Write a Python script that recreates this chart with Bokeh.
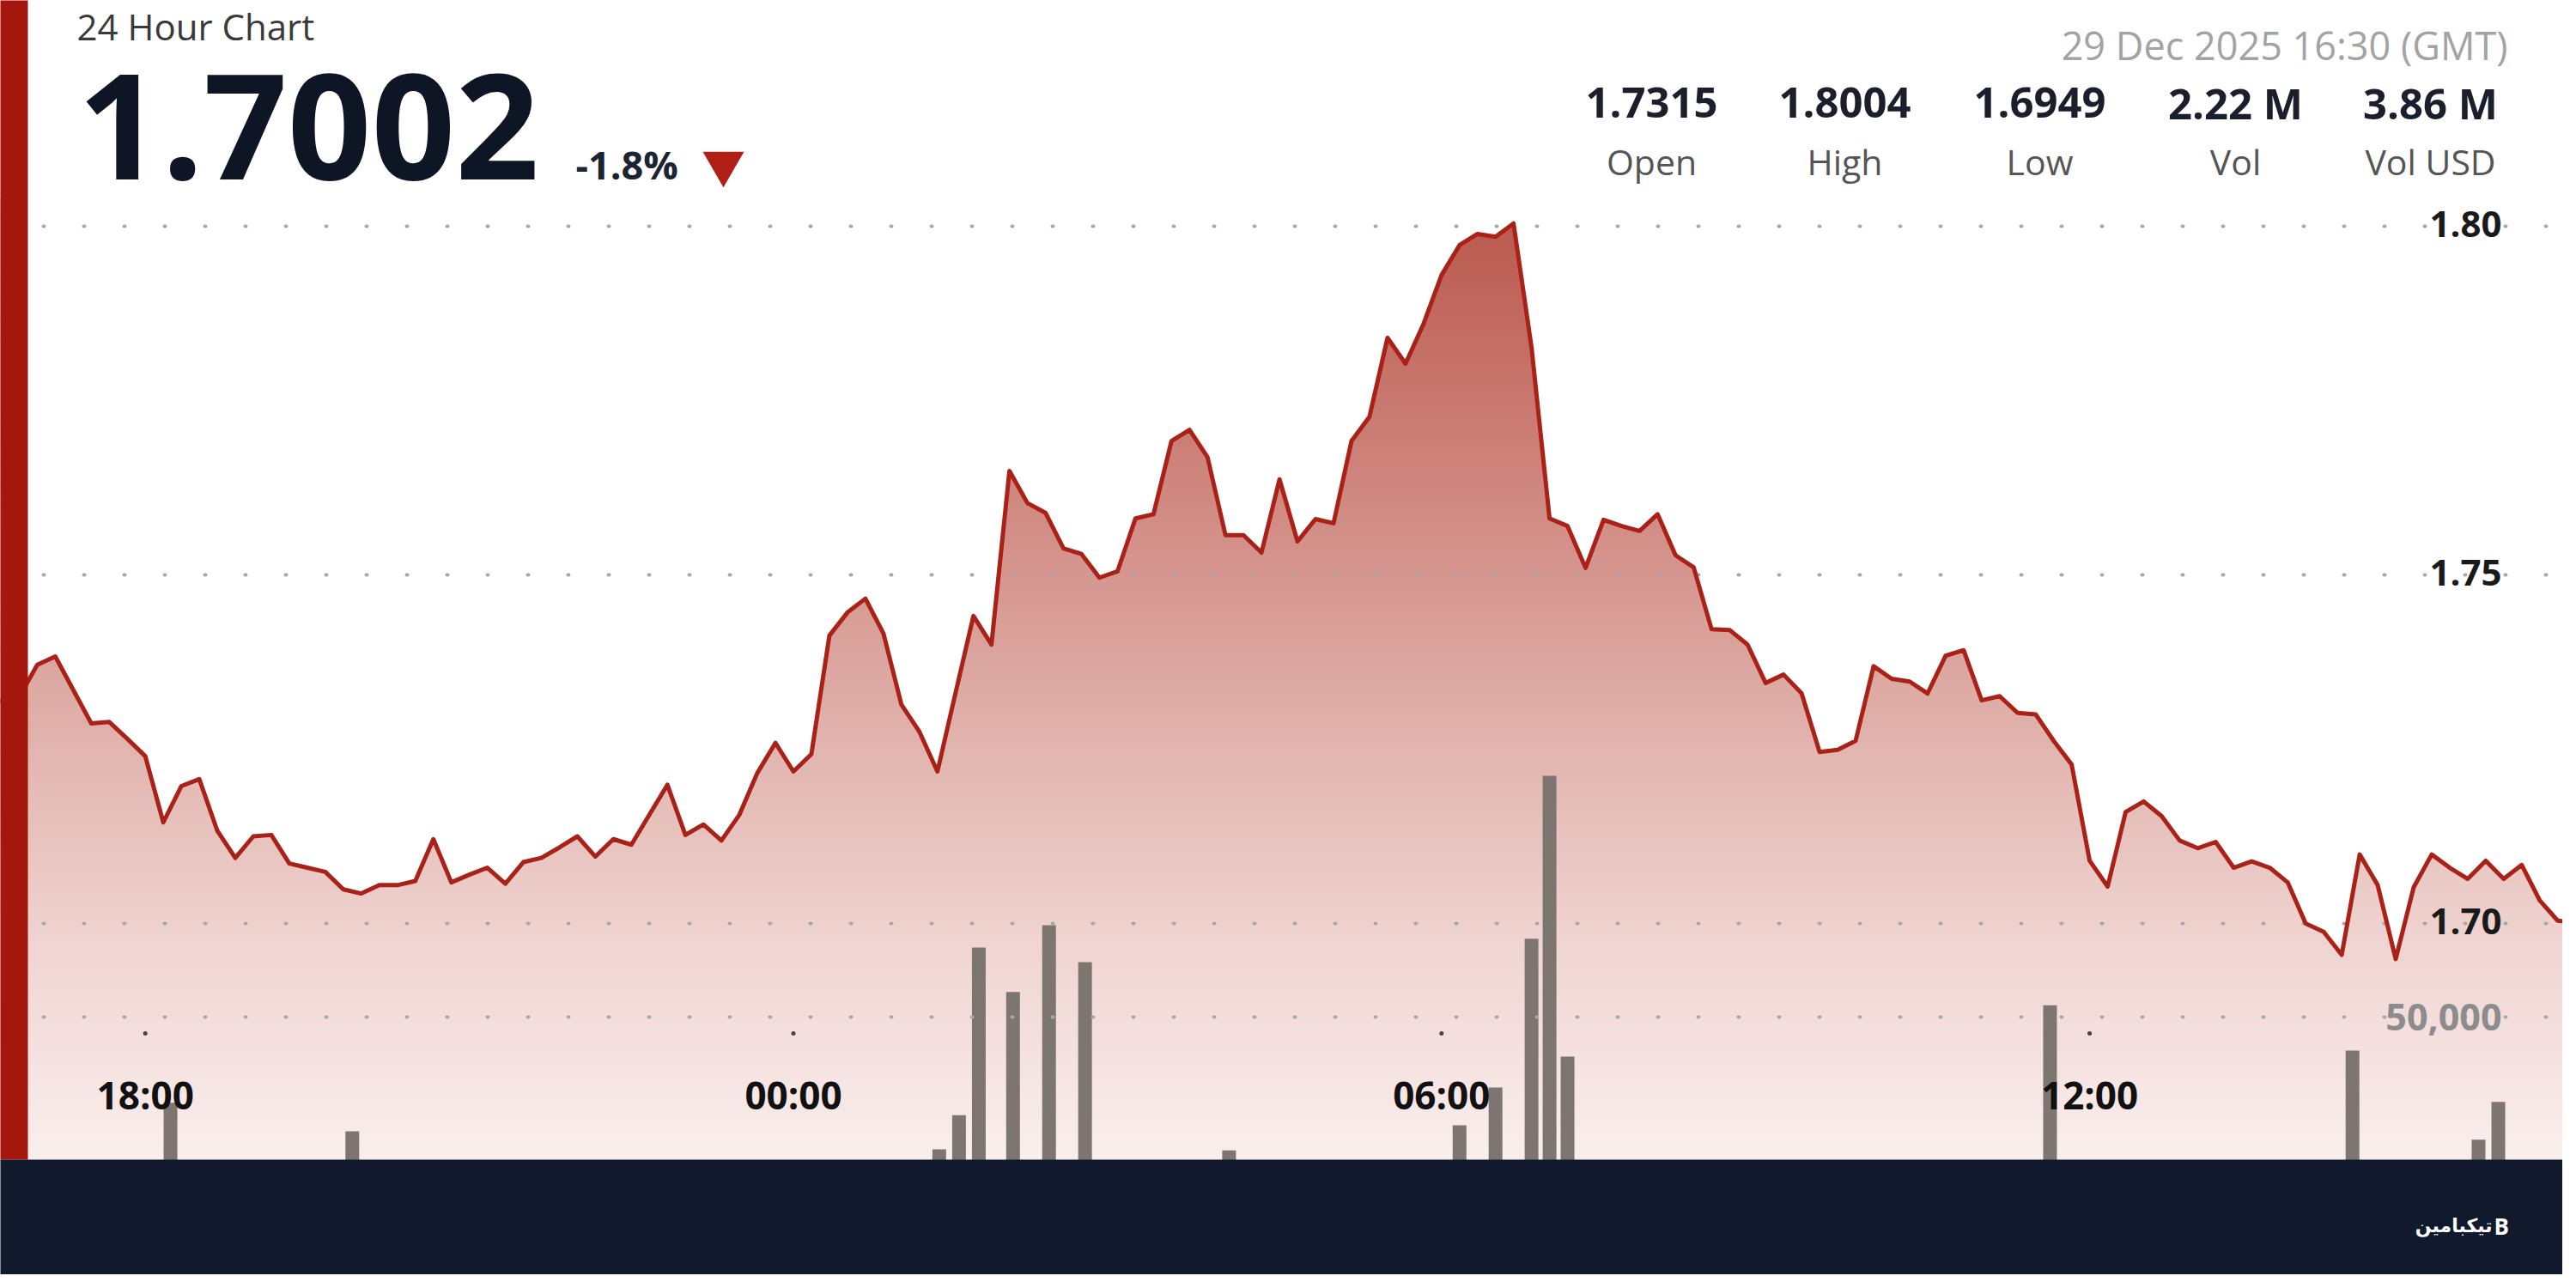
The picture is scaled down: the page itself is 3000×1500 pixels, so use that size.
import numpy as np
import pandas as pd
from bokeh.plotting import figure
from bokeh.models import Range1d
from bokeh.core.properties import value
from bokeh.embed import file_html
from bokeh.resources import INLINE

# ---------------- data ----------------
title_text = "24 Hour Chart"
last_price_text = "1.7002"
change_text = "-1.8%"
timestamp_text = "29 Dec 2025 16:30 (GMT)"
stat_values = ["1.7315", "1.8004", "1.6949", "2.22 M", "3.86 M"]
stat_labels = ["Open", "High", "Low", "Vol", "Vol USD"]
brand_text = "تیکبامین"

price_start = "2025-12-28 16:30"
price_step = "10min"
prices = [
    1.7315, 1.7320, 1.7325, 1.7371, 1.7383, 1.7335, 1.7287, 1.7289, 1.7265, 1.7240,
    1.7145, 1.7197, 1.7207, 1.7133, 1.7094, 1.7125, 1.7127, 1.7086, 1.7080, 1.7074,
    1.7049, 1.7043, 1.7055, 1.7055, 1.7061, 1.7121, 1.7059, 1.7070, 1.7080, 1.7057,
    1.7088, 1.7094, 1.7109, 1.7125, 1.7096, 1.7121, 1.7113, 1.7156, 1.7199, 1.7127,
    1.7142, 1.7119, 1.7156, 1.7216, 1.7259, 1.7218, 1.7243, 1.7413, 1.7446, 1.7466,
    1.7416, 1.7314, 1.7275, 1.7218, 1.7330, 1.7441, 1.7400, 1.7649, 1.7603, 1.7589,
    1.7538, 1.7530, 1.7496, 1.7505, 1.7581, 1.7587, 1.7692, 1.7708, 1.7669, 1.7557,
    1.7557, 1.7532, 1.7637, 1.7548, 1.7580, 1.7574, 1.7692, 1.7727, 1.7840, 1.7803,
    1.7860, 1.7930, 1.7973, 1.7989, 1.7985, 1.8004, 1.7826, 1.7581, 1.7570, 1.7510,
    1.7579, 1.7570, 1.7563, 1.7587, 1.7528, 1.7511, 1.7422, 1.7421, 1.7400, 1.7345,
    1.7357, 1.7330, 1.7246, 1.7249, 1.7262, 1.7369, 1.7351, 1.7347, 1.7330, 1.7384,
    1.7392, 1.7320, 1.7326, 1.7302, 1.7300, 1.7262, 1.7228, 1.7090, 1.7053, 1.7160,
    1.7175, 1.7154, 1.7119, 1.7108, 1.7117, 1.7080, 1.7089, 1.7080, 1.7059, 1.7000,
    1.6988, 1.6955, 1.7099, 1.7055, 1.6949, 1.7052, 1.7099, 1.7080, 1.7064, 1.7090,
    1.7064, 1.7084, 1.7033, 1.7004, 1.7002,
]

volume_times = [
    "2025-12-28 18:14", "2025-12-28 19:55", "2025-12-29 01:21", "2025-12-29 01:32",
    "2025-12-29 01:43", "2025-12-29 02:02", "2025-12-29 02:22", "2025-12-29 02:42",
    "2025-12-29 04:02", "2025-12-29 06:10", "2025-12-29 06:30", "2025-12-29 06:50",
    "2025-12-29 07:00", "2025-12-29 07:10", "2025-12-29 11:38", "2025-12-29 14:26",
    "2025-12-29 15:36", "2025-12-29 15:47",
]
volumes = [
    30500, 24000, 19900, 27700, 65800, 55700, 70900, 62500,
    19700, 25400, 34000, 67800, 104900, 41000, 52700, 42400,
    22100, 30700,
]

price_ticks = [1.80, 1.75, 1.70]
volume_ticks = [50000]
time_ticks = ["2025-12-28 18:00", "2025-12-29 00:00", "2025-12-29 06:00", "2025-12-29 12:00"]
time_tick_labels = ["18:00", "00:00", "06:00", "12:00"]

# ---------------- helpers (reference pixel -> data) ----------------
BASE = pd.Timestamp(price_start)
PX_PER_HOUR = 125.8
X_AT_BASE = -20.0
W, H = 2984, 1484


def to_ms(ts):
    return pd.Timestamp(ts).value / 1e6


def X(px):
    return to_ms(BASE + pd.Timedelta(hours=(px - X_AT_BASE) / PX_PER_HOUR))


PRICE_PER_PX = 1.0 / 8120.0


def P(py):
    return 1.75 - (py - 669.0) * PRICE_PER_PX


VOL_BASE_PX = 1440.0
VOL_PX_PER_UNIT = 256.0 / 50000.0


def V(py):
    return (VOL_BASE_PX - py) / VOL_PX_PER_UNIT


times_ms = [to_ms(t) for t in pd.date_range(price_start, periods=len(prices), freq=price_step)]
vol_ms = [to_ms(t) for t in volume_times]
tick_ms = [to_ms(t) for t in time_ticks]

FONT = value("Open Sans")

p = figure(
    width=W, height=H,
    x_range=Range1d(X(0), X(W)),
    y_range=Range1d(P(H), P(0)),
    x_axis_location=None, y_axis_location=None,
    output_backend="svg", toolbar_location=None,
    min_border=0,
)
p.extra_y_ranges = {"vol": Range1d(V(H), V(0))}
p.grid.visible = False
p.outline_line_color = None
p.background_fill_color = "white"
p.border_fill_color = "white"

LEFT = X(0) - 1e7
RIGHT = X(3000) + 1e7

# ---- gradient area under the price line ----
stop_px = [240, 450, 670, 900, 1100, 1350]
stop_rgb = [(186, 88, 78), (200, 118, 109), (214, 151, 144),
            (228, 185, 180), (240, 213, 210), (250, 239, 238)]
band_top = np.arange(230, 1350, 6)
band_center = band_top + 3
chan = [np.interp(band_center, stop_px, [c[k] for c in stop_rgb]) for k in range(3)]
band_colors = ["#%02x%02x%02x" % (int(r), int(g), int(b)) for r, g, b in zip(*chan)]
p.quad(left=LEFT, right=RIGHT,
       top=[P(t) for t in band_top], bottom=[P(t + 7) for t in band_top],
       fill_color=band_colors, line_color=None)
# white mask above the line
p.varea(x=times_ms, y1=prices, y2=P(-50), fill_color="white")

# ---- volume bars ----
bar_w = 16 / PX_PER_HOUR * 3600 * 1000
p.vbar(x=vol_ms, top=volumes, bottom=0, width=bar_w, y_range_name="vol",
       fill_color="#7d7670", line_color=None)

# ---- dotted grid lines ----
p.segment(x0=X(50), x1=X(2975), y0=price_ticks, y1=price_ticks,
          line_dash="1 46", line_cap="round", line_width=4, line_color="#a8a8a8")
p.segment(x0=X(50), x1=X(2975), y0=volume_ticks, y1=volume_ticks, y_range_name="vol",
          line_dash="1 46", line_cap="round", line_width=4, line_color="#a8a8a8")

# ---- price line ----
p.line(times_ms, prices, line_width=5, line_color="#aa2118", line_join="round")

# ---- axis labels ----
nudge = 3 * PRICE_PER_PX
p.text(x=[X(2913)] * len(price_ticks), y=[v + nudge for v in price_ticks],
       text=["%.2f" % v for v in price_ticks],
       text_font=FONT, text_font_style="bold", text_font_size="42px",
       text_color="#1a1a1a", text_align="right", text_baseline="middle")
p.text(x=[X(2913)] * len(volume_ticks), y=volume_ticks, y_range_name="vol",
       text=["{:,}".format(v) for v in volume_ticks],
       text_font=FONT, text_font_style="bold", text_font_size="43px",
       text_color="#8c8c8c", text_align="right", text_baseline="middle")

# time ticks
p.scatter(x=tick_ms, y=[P(1203)] * len(tick_ms), size=5, color="#444444", line_color=None)
p.text(x=tick_ms, y=[P(1274)] * len(tick_ms), text=time_tick_labels,
       text_font=FONT, text_font_style="bold", text_font_size="44px",
       text_color="#111111", text_align="center", text_baseline="middle")

# ---- left red bar and footer ----
p.quad(left=LEFT, right=X(32), top=P(-20), bottom=P(1350),
       fill_color="#a4160e", line_color=None)
p.quad(left=LEFT, right=RIGHT, top=P(1350), bottom=P(1520),
       fill_color="#111a2c", line_color=None)
p.text(x=[X(2902)], y=[P(1427)], text=[brand_text],
       text_font=value("DejaVu Sans"), text_font_style="bold", text_font_size="22px",
       text_color="white", text_align="right", text_baseline="middle")
p.text(x=[X(2904)], y=[P(1427)], text=["B"],
       text_font=FONT, text_font_style="bold", text_font_size="26px",
       text_color="white", text_align="left", text_baseline="middle")

# ---- header ----
p.text(x=[X(89)], y=[P(30)], text=[title_text],
       text_font=FONT, text_font_size="42px", text_color="#3a3a3a",
       text_align="left", text_baseline="alphabetic")
p.text(x=[X(90)], y=[P(147)], text=[last_price_text],
       text_font=FONT, text_font_style="bold", text_font_size="171px",
       text_color="#0e1626", text_align="left", text_baseline="alphabetic")
p.text(x=[X(670)], y=[P(191)], text=[change_text],
       text_font=FONT, text_font_style="bold", text_font_size="45px",
       text_color="#1c2333", text_align="left", text_baseline="alphabetic")
p.scatter(x=[X(842)], y=[P(190)], marker="inverted_triangle", size=48,
          fill_color="#b01f16", line_color=None)
p.text(x=[X(2920)], y=[P(52)], text=[timestamp_text],
       text_font=FONT, text_font_size="45px", text_color="#a3a3a3",
       text_align="right", text_baseline="alphabetic")

stat_centers = [1923, 2148, 2375, 2603, 2830]
p.text(x=[X(c) for c in stat_centers], y=[P(119)] * 5, text=stat_values,
       text_font=FONT, text_font_style="bold", text_font_size="49px",
       text_color="#1a1f2b", text_align="center", text_baseline="alphabetic")
p.text(x=[X(c) for c in stat_centers], y=[P(187)] * 5, text=stat_labels,
       text_font=FONT, text_font_size="41px", text_color="#555555",
       text_align="center", text_baseline="alphabetic")

open("out.html", "w").write(file_html(p, INLINE))
